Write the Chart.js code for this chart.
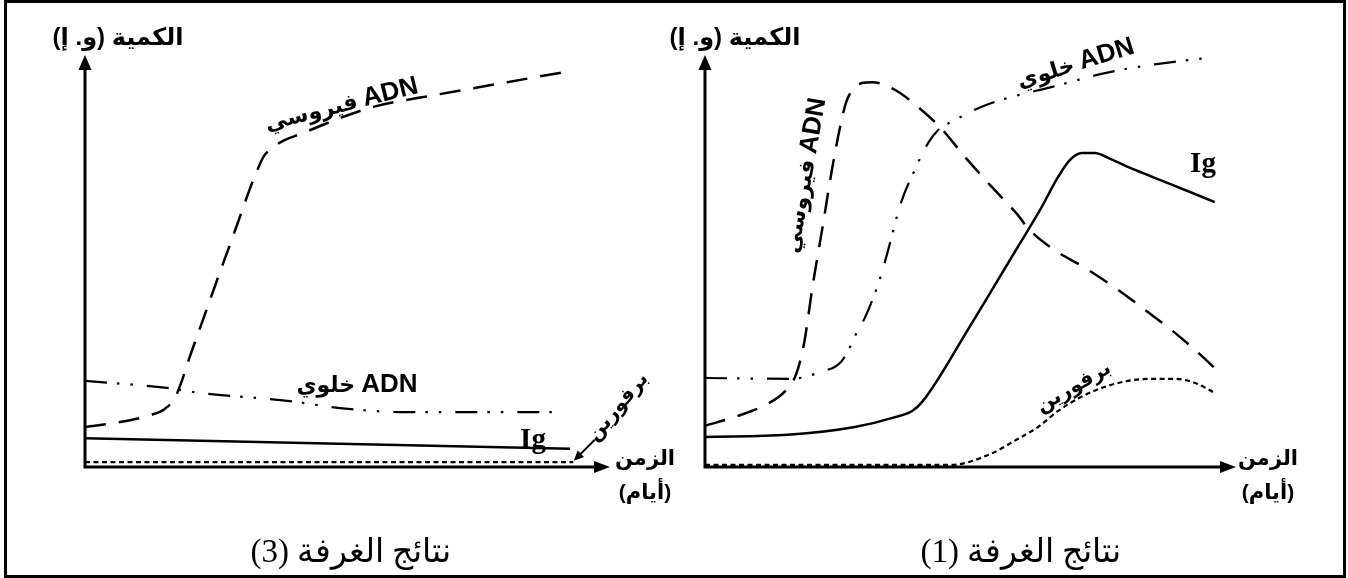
<!DOCTYPE html>
<html>
<head>
<meta charset="utf-8">
<script src="https://cdn.jsdelivr.net/npm/chart.js@4/dist/chart.umd.min.js"></script>
<style>
html, body { margin: 0; padding: 0; background: #fff; }
#wrap { position: relative; width: 1348px; height: 578px; overflow: hidden; }
#wrap canvas { position: absolute; left: 0; top: 0; }
.frame { position: absolute; left: 4px; top: 0; width: 1342px; height: 578px; box-sizing: border-box; border: 3px solid #000; }
.lbl { position: absolute; white-space: nowrap; direction: rtl; transform: translate(-50%, -50%);
  font-family: "Liberation Sans", "DejaVu Sans", sans-serif; font-weight: bold; color: #000; line-height: 1; }
.ax { font-size: 24px; }
.tm { font-size: 21px; }
.ig { font-family: "Liberation Serif", serif; font-size: 29px; }
.cap { font-family: "Liberation Serif", "DejaVu Serif", serif; font-weight: normal; font-size: 33px; }
.cv { font-size: 22px; }
.cv .lat { font-size: 26px; }
.pf { font-size: 20px; }
</style>
</head>
<body>
<div id="wrap">
  <canvas id="c3" width="1348" height="578"></canvas>
  <canvas id="c1" width="1348" height="578"></canvas>
  <div class="frame"></div>

  <!-- chamber 3 -->
  <div class="lbl ax" style="left:118px;top:37px">الكمية (و. إ)</div>
  <div class="lbl tm" style="left:645px;top:457px">الزمن</div>
  <div class="lbl tm" style="left:645px;top:491px">(أيام)</div>
  <div class="lbl cap" style="left:351px;top:551px">نتائج الغرفة (3)</div>
  <div class="lbl cv" style="left:341px;top:103px;transform:translate(-50%,-50%) rotate(-14deg)"><span class="lat">ADN</span> فيروسي</div>
  <div class="lbl cv" style="left:357px;top:383px"><span class="lat">ADN</span> خلوي</div>
  <div class="lbl ig" style="left:533px;top:438px">Ig</div>
  <div class="lbl pf" style="left:617px;top:406px;transform:translate(-50%,-50%) rotate(-50deg)">برفورين</div>

  <!-- chamber 1 -->
  <div class="lbl ax" style="left:735px;top:37px">الكمية (و. إ)</div>
  <div class="lbl tm" style="left:1268px;top:457px">الزمن</div>
  <div class="lbl tm" style="left:1268px;top:491px">(أيام)</div>
  <div class="lbl cap" style="left:1021px;top:551px">نتائج الغرفة (1)</div>
  <div class="lbl cv" style="left:803px;top:175px;transform:translate(-50%,-50%) rotate(-80deg)"><span class="lat">ADN</span> فيروسي</div>
  <div class="lbl cv" style="left:1075px;top:62px;transform:translate(-50%,-50%) rotate(-17deg)"><span class="lat">ADN</span> خلوي</div>
  <div class="lbl ig" style="left:1203px;top:162px">Ig</div>
  <div class="lbl pf" style="left:1073px;top:386px;transform:translate(-50%,-50%) rotate(-30deg)">برفورين</div>
</div>

<script>
// values: x = time (0..100 of the axis), y = amount (0..100 of the axis)

// chamber 3
const viralDna3 = [[0,9.7],[6.7,10.9],[12.4,12.6],[15.2,14.1],[17.1,16.7],[18.5,21.1],[20.0,26.9],[21.9,33.7],
  [23.8,40.5],[25.7,47.3],[27.6,53.9],[29.5,60.7],[31.4,67.5],[33.0,72.6],[34.1,75.5],[35.6,77.4],[38.1,79.4],
  [41.0,80.8],[48.6,84.7],[54.9,87.4],[67.6,90.5],[80.4,93.4],[92.4,96.1]];
const cellDna3 = [[0,20.9],[15.6,19.2],[21.9,18.0],[39.0,16.0],[48.6,14.3],[61.3,13.3],[89.9,13.3]];
const ig3 = [[0,7.0],[92.4,4.4]];
const perforin3 = [[0,1.2],[93.0,1.2]];
const perforinPointer3 = [[97.1,6.6],[93.1,1.5]];

// chamber 1
const viralDna1 = [[0,10.0],[6.2,12.4],[11.3,15.0],[15.1,18.4],[17.1,22.3],[18.6,29.6],[20.3,44.2],[22.2,58.7],
  [23.9,72.1],[25.4,82.3],[26.6,88.6],[27.9,91.7],[29.6,93.2],[31.5,93.4],[35.8,91.5],[40.1,87.4],[44.4,82.3],
  [49.0,75.2],[53.7,68.4],[58.9,61.2],[60.8,58.0],[65.2,53.2],[71.6,48.3],[77.8,43.0],[82.9,38.1],[87.8,33.3],
  [92.3,28.4],[97.4,22.3]];
const cellDna1 = [[0,21.6],[16.2,21.4],[21.8,23.1],[25.6,25.5],[27.5,29.6],[28.8,33.3],[30.1,36.2],[33.0,45.9],
  [34.5,52.7],[36.9,64.1],[39.5,72.1],[42.0,78.6],[44.3,82.3],[46.3,83.7],[52.0,87.4],[57.1,89.6],[65.2,92.2],
  [75.3,95.6],[84.0,97.6],[96.0,99.5]];
const ig1 = [[0,7.3],[15.6,7.8],[28.2,9.7],[35.8,12.1],[39.0,13.6],[40.9,15.8],[49.5,33.3],[58.9,53.4],[63.1,62.4],
  [66.5,70.4],[68.7,74.5],[71.0,76.2],[73.4,76.2],[76.3,74.8],[81.0,72.1],[87.2,68.9],[96.0,64.3]];
const perforin1 = [[0,0.5],[46.3,0.5],[53.3,2.9],[58.9,6.8],[62.7,9.7],[66.5,13.6],[71.6,17.5],[77.8,20.4],
  [84.0,21.4],[88.5,21.4],[92.3,20.4],[96.0,18.0]];

const styles = {
  viral: { borderWidth: 2.5, borderDash: [21, 13] },
  cell: { borderWidth: 2.2, borderDash: [22, 10, 2.5, 11, 2.5, 14] },
  ig: { borderWidth: 2.5, borderDash: [] },
  perforin: { borderWidth: 2.2, borderDash: [5, 3.5] }
};

function ds(points, kind){
  return Object.assign({
    data: points.map(([x, y]) => ({ x, y })),
    borderColor: '#000',
    pointRadius: 0,
    fill: false,
    cubicInterpolationMode: 'monotone',
    clip: false
  }, styles[kind]);
}

function head(ctx, x, y, dx, dy, len, wid){
  const px = -dy, py = dx;
  ctx.beginPath();
  ctx.moveTo(x, y);
  ctx.lineTo(x - dx*len + px*wid/2, y - dy*len + py*wid/2);
  ctx.lineTo(x - dx*len - px*wid/2, y - dy*len - py*wid/2);
  ctx.closePath();
  ctx.fill();
}

const axesArrows = {
  id: 'axesArrows',
  afterDatasetsDraw(chart){
    const { ctx, chartArea: a } = chart;
    ctx.save();
    ctx.strokeStyle = '#000'; ctx.fillStyle = '#000'; ctx.lineWidth = 3; ctx.setLineDash([]);
    ctx.beginPath();
    ctx.moveTo(a.left, a.bottom); ctx.lineTo(a.left, a.top + 10);
    ctx.moveTo(a.left - 1.5, a.bottom); ctx.lineTo(a.right - 12, a.bottom);
    ctx.stroke();
    head(ctx, a.left, a.top, 0, -1, 15, 13);
    head(ctx, a.right, a.bottom, 1, 0, 16, 12);
    const p = chart.options.plugins.axesArrows.pointer;
    if (p) {
      const x0 = chart.scales.x.getPixelForValue(p[0][0]), y0 = chart.scales.y.getPixelForValue(p[0][1]);
      const x1 = chart.scales.x.getPixelForValue(p[1][0]), y1 = chart.scales.y.getPixelForValue(p[1][1]);
      const L = Math.hypot(x1 - x0, y1 - y0), ux = (x1 - x0)/L, uy = (y1 - y0)/L;
      ctx.lineWidth = 2;
      ctx.beginPath(); ctx.moveTo(x0, y0); ctx.lineTo(x1 - ux*8, y1 - uy*8); ctx.stroke();
      head(ctx, x1, y1, ux, uy, 10, 9);
    }
    ctx.restore();
  }
};

function makeChart(id, pad, sets, pointer){
  return new Chart(document.getElementById(id), {
    type: 'line',
    data: { datasets: sets },
    options: {
      responsive: false,
      animation: false,
      events: [],
      layout: { padding: pad },
      plugins: { legend: { display: false }, tooltip: { enabled: false }, axesArrows: { pointer } },
      scales: {
        x: { type: 'linear', min: 0, max: 100, display: false },
        y: { type: 'linear', min: 0, max: 100, display: false }
      }
    },
    plugins: [axesArrows]
  });
}

makeChart('c3', { left: 85, top: 55, right: 1348 - 610, bottom: 578 - 467 },
  [ds(perforin3, 'perforin'), ds(ig3, 'ig'), ds(cellDna3, 'cell'), ds(viralDna3, 'viral')], perforinPointer3);

makeChart('c1', { left: 705, top: 55, right: 1348 - 1236, bottom: 578 - 467 },
  [ds(perforin1, 'perforin'), ds(ig1, 'ig'), ds(cellDna1, 'cell'), ds(viralDna1, 'viral')], null);
</script>
</body>
</html>
